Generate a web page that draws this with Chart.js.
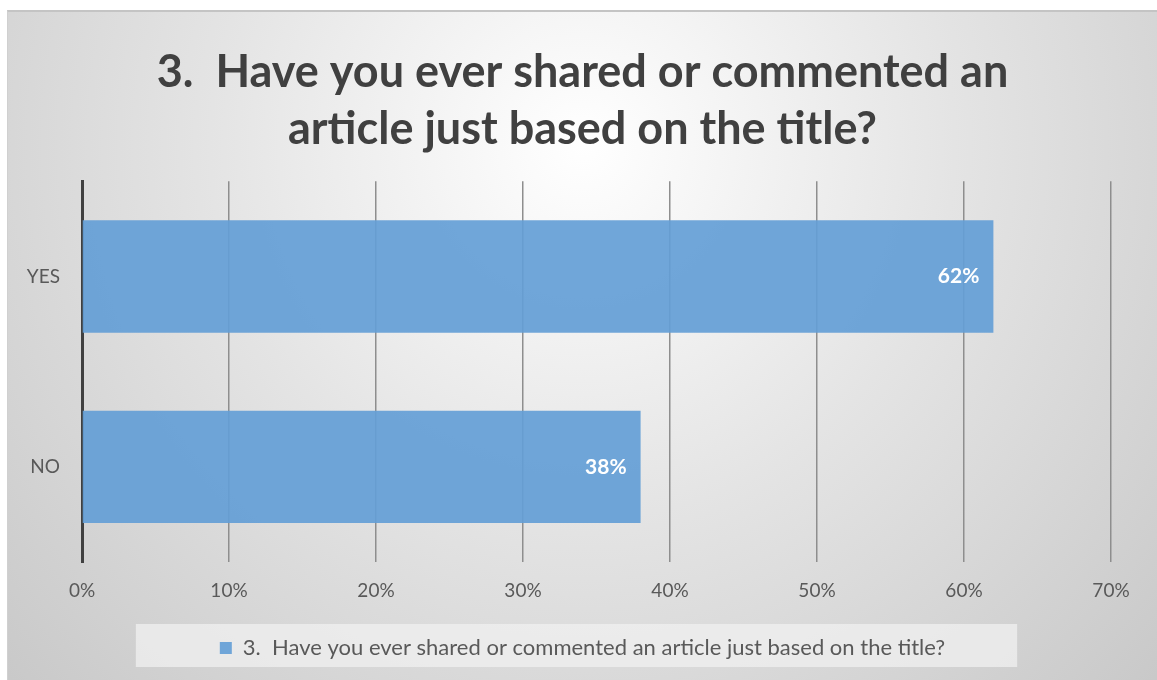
<!DOCTYPE html>
<html>
<head>
<meta charset="utf-8">
<script src="https://cdn.jsdelivr.net/npm/chart.js@4"></script>
<style>
  html, body { margin: 0; padding: 0; background: #fff; }
  #frame { position: absolute; left: 7px; top: 10px; width: 1150px; height: 670px; box-sizing: border-box; border-top: 2px solid #c4c4c4; border-left: 1px solid #d0d0d0; }
  #chart { display: block; }
</style>
</head>
<body>
<div id="frame"><canvas id="chart" width="1149" height="668"></canvas></div>
<script>
const categories = ['YES', 'NO'];
const shares = [0.62, 0.38];
const seriesName = '3.  Have you ever shared or commented an article just based on the title?';
const titleLines = ['3.  Have you ever shared or commented an', 'article just based on the title?'];

const barColor = 'rgba(100, 158, 214, 0.92)';
const FONT = 'Lato, "Open Sans", sans-serif';

// background gradient + legend box
const backdrop = {
  id: 'backdrop',
  beforeDraw(chart) {
    const ctx = chart.ctx;
    const w = chart.width, h = chart.height;
    ctx.save();
    const g = ctx.createRadialGradient(w * 0.5, h * 0.2, 0, w * 0.5, h * 0.2, w * 0.72);
    g.addColorStop(0, '#ffffff');
    g.addColorStop(0.45, '#e4e4e4');
    g.addColorStop(1, '#c6c6c6');
    ctx.fillStyle = g;
    ctx.fillRect(0, 0, w, h);
    const hb = chart.legend.legendHitBoxes[0];
    if (hb) {
      ctx.fillStyle = 'rgba(240,240,240,0.75)';
      ctx.fillRect(hb.left - 84, chart.legend.top + 2, hb.width + 84 + 72, chart.legend.height - 4);
    }
    ctx.restore();
  }
};

// value labels inside bar ends
const valueLabels = {
  id: 'valueLabels',
  afterDatasetsDraw(chart) {
    const ctx = chart.ctx;
    const meta = chart.getDatasetMeta(0);
    ctx.save();
    ctx.font = 'bold 21px ' + FONT;
    ctx.fillStyle = '#ffffff';
    ctx.textAlign = 'right';
    ctx.textBaseline = 'middle';
    meta.data.forEach((bar, i) => {
      ctx.fillText(Math.round(shares[i] * 100) + '%', bar.x - 14, bar.y);
    });
    ctx.restore();
  }
};

new Chart(document.getElementById('chart'), {
  type: 'bar',
  data: {
    labels: categories,
    datasets: [{
      label: seriesName,
      data: shares,
      backgroundColor: barColor,
      barPercentage: 0.59,
      categoryPercentage: 1.0
    }]
  },
  options: {
    indexAxis: 'y',
    responsive: false,
    animation: false,
    layout: { padding: { left: 0, right: 0, top: 0, bottom: 11 } },
    scales: {
      x: {
        min: 0, max: 0.7,
        ticks: { stepSize: 0.1, callback: v => Math.round(v * 100) + '%', color: '#595959', font: { family: FONT, size: 19 }, padding: 17 },
        grid: { color: '#8e8e8e', lineWidth: 1.5, drawTicks: false },
        border: { display: false },
        afterFit: s => { s.height = 60; s.paddingRight = 46; }
      },
      y: {
        ticks: { color: '#595959', font: { family: FONT, size: 19 }, padding: 14 },
        grid: { display: false },
        border: { color: '#404040', width: 3 },
        afterFit: s => { s.width = 74; }
      }
    },
    plugins: {
      title: {
        display: true,
        text: titleLines,
        color: '#404040',
        font: { family: FONT, size: 45, weight: 'bold', lineHeight: 1.27 },
        padding: { top: 32, bottom: 23 }
      },
      legend: {
        position: 'bottom',
        labels: { color: '#595959', font: { family: FONT, size: 22 }, boxWidth: 12, boxHeight: 12, padding: 15 }
      },
      tooltip: { enabled: false }
    }
  },
  plugins: [backdrop, valueLabels]
});
</script>
</body>
</html>
